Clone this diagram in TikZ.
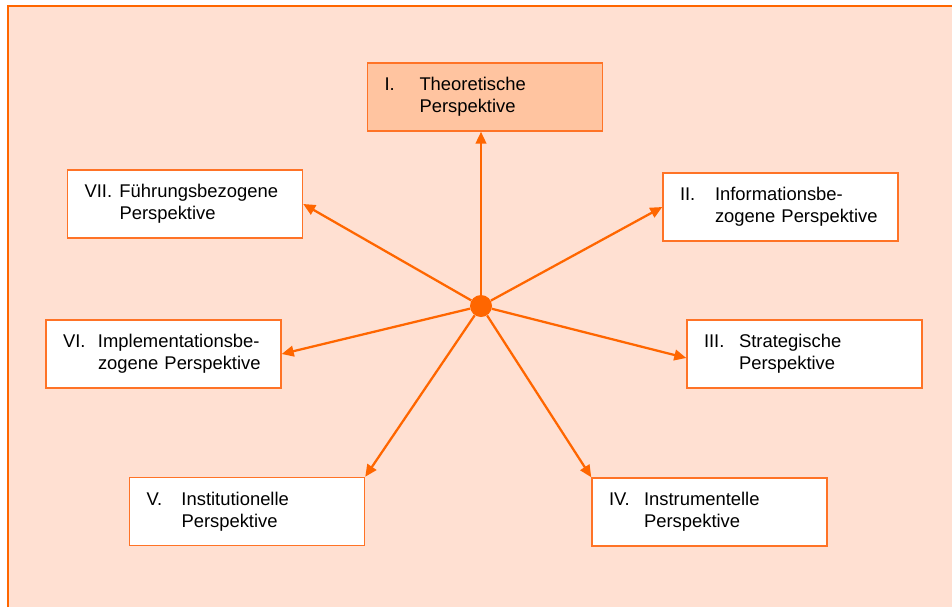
\documentclass[tikz,border=0pt]{standalone}
\usepackage{fontspec}
\setmainfont{Liberation Sans}
\usetikzlibrary{arrows.meta}
\definecolor{peach}{HTML}{FFE0D2}
\definecolor{hotorange}{HTML}{FF6600}
\definecolor{boxorange}{HTML}{FF7326}
\definecolor{lightorange}{HTML}{FFC4A0}
\newcommand{\persp}[3]{\makebox[26.25pt][l]{#1}#2\\\hspace*{26.25pt}#3}
\tikzset{
  perspbox/.style={draw=boxorange, line width=1.1pt, fill=white, rectangle,
    minimum width=176.25pt, minimum height=51pt, inner xsep=12.75pt,
    text width=150.75pt, align=left,
    font=\fontsize{13.8pt}{16.5pt}\selectfont},
  spoke/.style={draw=hotorange, line width=1.7pt,
    -{Triangle[length=9pt,width=8pt]}},
}
\begin{document}
\begin{tikzpicture}[x=0.75pt,y=-0.75pt]
\useasboundingbox (0,0) rectangle (952,607);
% page background and frame
\fill[white] (0,0) rectangle (952,607);
\fill[peach] (8,6) rectangle (952,607);
\draw[hotorange, line width=2pt] (8,607) -- (8,6) -- (952,6);

% perspective boxes
\node[perspbox, fill=lightorange] (b1) at (485,97) {\persp{I.}{Theoretische}{Perspektive}};
\node[perspbox] (b2) at (780.5,207) {\persp{II.}{Informationsbe-}{zogene Perspektive}};
\node[perspbox] (b3) at (804.5,354) {\persp{III.}{Strategische}{Perspektive}};
\node[perspbox] (b4) at (709.5,512) {\persp{IV.}{Instrumentelle}{Perspektive}};
\node[perspbox] (b5) at (247,511.5) {\persp{V.}{Institutionelle}{Perspektive}};
\node[perspbox] (b6) at (163.5,354) {\persp{VI.}{Implementationsbe-}{zogene Perspektive}};
\node[perspbox] (b7) at (185,204) {\persp{VII.}{Führungsbezogene}{Perspektive}};

% hub
\node[circle, fill=hotorange, minimum size=16.5pt, inner sep=0pt] (c) at (481,306) {};

% spokes
\draw[spoke] (c) -- (c |- b1.south);
\draw[spoke] (c) -- (b2.west);
\draw[spoke] (c) -- ([yshift=-3pt]b3.west);
\draw[spoke] (c) -- (b4.north west);
\draw[spoke] (c) -- (b5.north east);
\draw[spoke] (c) -- (b6.east);
\draw[spoke] (c) -- (b7.east);
\end{tikzpicture}
\end{document}
